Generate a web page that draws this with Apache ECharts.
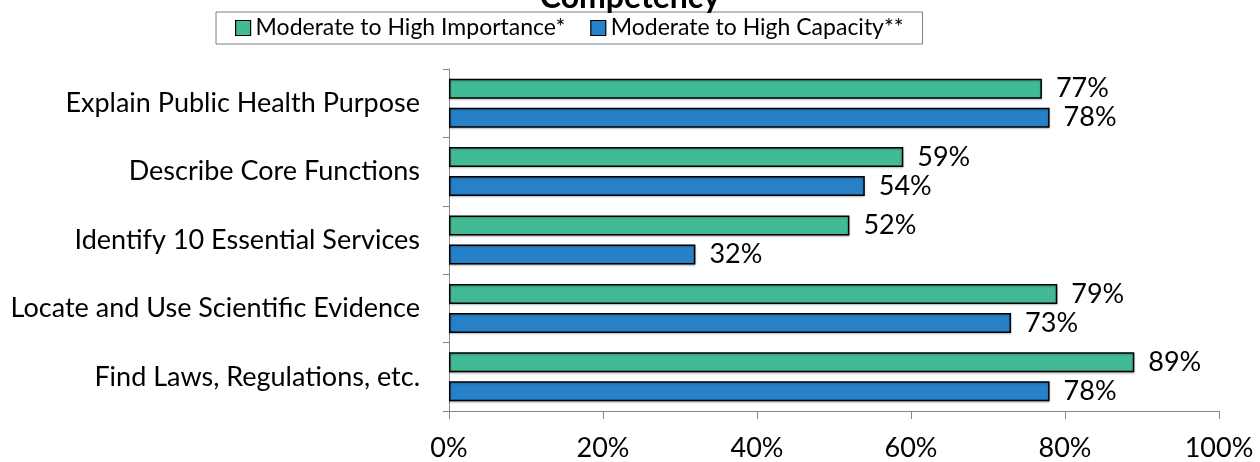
<!DOCTYPE html>
<html>
<head>
<meta charset="utf-8">
<script src="https://cdn.jsdelivr.net/npm/echarts@6/dist/echarts.min.js"></script>
<style>
  html, body { margin: 0; padding: 0; background: #fff; }
  #chart { width: 1260px; height: 462px; }
</style>
</head>
<body>
<div id="chart"></div>
<script>
// Competency survey: share of respondents rating each item
const categories = [
  'Explain Public Health Purpose',
  'Describe Core Functions',
  'Identify 10 Essential Services',
  'Locate and Use Scientific Evidence',
  'Find Laws, Regulations, etc.'
];
const seriesNames = ['Moderate to High Importance*', 'Moderate to High Capacity**'];
const importance = [77, 59, 52, 79, 89];
const capacity = [78, 54, 32, 73, 78];
const xTicks = [0, 20, 40, 60, 80, 100];

const FONT = 'Lato';
const colors = ['#43BA96', '#2681C8'];

const chart = echarts.init(document.getElementById('chart'), null, { renderer: 'canvas' });

function barSeries(name, data, color) {
  return {
    name: name,
    type: 'bar',
    data: data,
    barWidth: 20,
    barGap: '45%',
    itemStyle: {
      color: color,
      borderColor: '#000',
      borderWidth: 1.5,
      shadowColor: 'rgba(0,0,0,0.25)',
      shadowBlur: 2,
      shadowOffsetY: 1
    },
    label: {
      show: true,
      position: 'right',
      distance: 14,
      formatter: p => p.value + '%',
      color: '#000',
      fontFamily: FONT,
      fontSize: 27
    },
    emphasis: { disabled: true }
  };
}

chart.setOption({
  animation: false,
  title: {
    text: 'Competency',
    left: 'center',
    top: -23,
    textStyle: { fontFamily: FONT, fontWeight: 'bold', fontSize: 32, color: '#000' }
  },
  legend: {
    data: seriesNames,
    left: 216,
    top: 12,
    padding: [2, 19, 2, 19],
    itemGap: 25,
    itemWidth: 15,
    itemHeight: 15,
    borderColor: '#7f7f7f',
    borderWidth: 1,
    icon: 'rect',
    itemStyle: { borderColor: '#000', borderWidth: 1.2 },
    textStyle: { fontFamily: FONT, fontSize: 23, color: '#000', lineHeight: 28 }
  },
  grid: { left: 449, right: 41, top: 69, bottom: 51, containLabel: false },
  xAxis: {
    type: 'value',
    min: xTicks[0],
    max: xTicks[xTicks.length - 1],
    interval: 20,
    axisLine: { show: true, lineStyle: { color: '#868686', width: 1 } },
    axisTick: { show: true, length: 8, lineStyle: { color: '#868686' } },
    splitLine: { show: false },
    axisLabel: {
      margin: 24,
      formatter: v => v + '%',
      color: '#000',
      fontFamily: FONT,
      fontSize: 27
    }
  },
  yAxis: {
    type: 'category',
    data: categories,
    inverse: true,
    axisLine: { show: true, lineStyle: { color: '#868686', width: 1 } },
    axisTick: { show: true, length: 6, lineStyle: { color: '#868686' } },
    axisLabel: {
      margin: 29,
      color: '#000',
      fontFamily: FONT,
      fontSize: 27
    }
  },
  series: [
    barSeries(seriesNames[0], importance, colors[0]),
    barSeries(seriesNames[1], capacity, colors[1])
  ]
});
</script>
</body>
</html>
